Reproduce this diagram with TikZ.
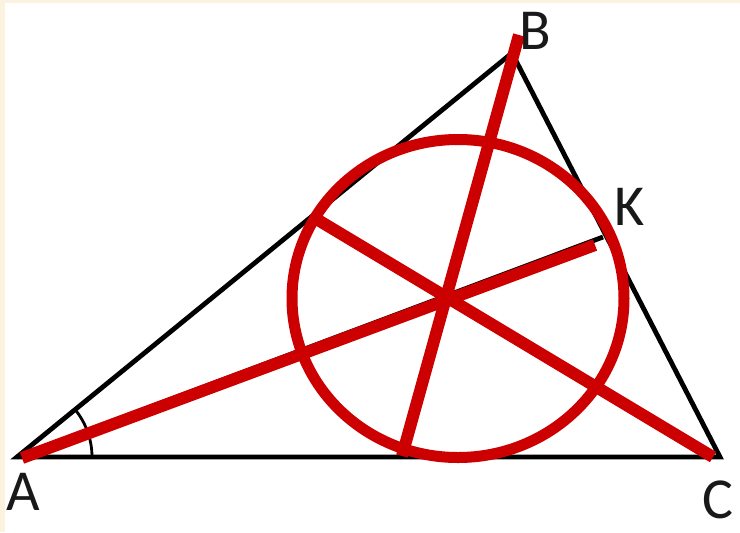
\documentclass[tikz,border=0pt]{standalone}
\usepackage{fontspec}
\setmainfont{Carlito}
\usepackage{tikz}
\usetikzlibrary{calc}

\definecolor{bisred}{RGB}{204,0,0}
\definecolor{cream}{RGB}{252,242,224}
\tikzset{
  tri/.style={black,line width=2.4pt},
  bisec/.style={bisred,line width=6pt},
  lbl/.style={font=\fontsize{29}{32}\selectfont,text=black!90}
}

\begin{document}
\begin{tikzpicture}[x=0.5pt,y=-0.5pt]
\useasboundingbox (0,0) rectangle (740,532);
\fill[cream] (0,0) rectangle (740,532);
\fill[white] (5,3) rectangle (740,532);

% vertices and feet of the bisectors
\coordinate (A) at (17,457);
\coordinate (B) at (512,53);
\coordinate (C) at (720,457);
\coordinate (K) at (603,237);
\coordinate (Kr) at (595,245);
\coordinate (Bt) at (519,35);
\coordinate (L) at (402,456);
\coordinate (M) at (313,217);

% triangle
\draw[tri] (A) -- (B) -- (C) -- cycle;
\draw[tri] (A) -- (K);
\draw[black,line width=1.4pt] ($(A)+(75,0)$) arc[start angle=0,end angle=-39,radius=75];

% circle and bisectors
\draw[bisec,line width=5.5pt] (458,298.5) ellipse [x radius=166,y radius=159];
\draw[bisec] ($(A)+(5,1)$) -- (Kr);
\draw[bisec] (Bt) -- (L);
\draw[bisec] (M) -- ($(C)+(-7,0)$);

% labels
\node[lbl] (lA) at (23,492) {A};
\node[lbl] (lB) at (535,31) {B};
\node[lbl] (lC) at (718,500) {C};
\node[lbl] (lK) at (630,207) {K};
\end{tikzpicture}
\end{document}
